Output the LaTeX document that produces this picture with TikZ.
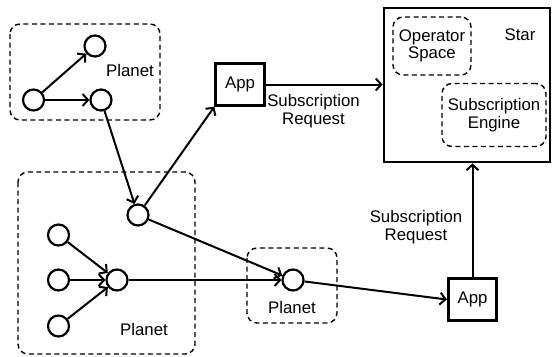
\documentclass[tikz,border=0pt]{standalone}
\usepackage{fontspec}
\setmainfont{Liberation Sans}
\usetikzlibrary{arrows.meta}
\begin{document}
\begin{tikzpicture}[x=1pt,y=-1pt,
  every node/.style={font=\fontsize{16.8}{17.5}\selectfont},
  dot/.style={circle,draw,line width=2.2pt,minimum size=21pt,inner sep=0pt},
  grp/.style={draw,dash pattern=on 5pt off 3.5pt,rounded corners=10pt,line width=1.4pt},
  appbox/.style={draw,line width=2.8pt,minimum width=48.5pt,minimum height=41.5pt,inner sep=0pt},
  conn/.style={line width=2pt,-{Straight Barb[length=5.5pt,width=12pt,line width=2pt]}},
  lbl/.style={align=center,inner sep=0pt}
]
\useasboundingbox (0,0) rectangle (553,356);

% group boxes
\draw[grp] (10,24) rectangle (160,120);
\draw[grp] (18,172) rectangle (195,354);
\draw[grp] (247,248) rectangle (337,323);

% star
\node[draw,line width=2.8pt,minimum width=166pt,minimum height=154pt,inner sep=0pt] (star) at (467,85) {};
\node[grp,minimum width=78pt,minimum height=58pt,inner sep=0pt,align=center] (ops) at (432,46) {Operator\\Space};
\node[grp,minimum width=104pt,minimum height=63pt,inner sep=0pt,align=center] (eng) at (494,115) {Subscription\\Engine};
\node[lbl] (starl) at (520,35) {Star};

% top-left planet
\node[dot] (t1) at (95,46) {};
\node[dot] (l1) at (33.5,100) {};
\node[dot] (r1) at (101,100) {};
\node[lbl] (pl1) at (130,70) {Planet};

% bottom planet
\node[dot] (hub) at (138,215) {};
\node[dot] (a1) at (58.5,235) {};
\node[dot] (a2) at (58.5,280) {};
\node[dot] (a3) at (58.5,326) {};
\node[dot] (cc) at (117,280) {};
\node[lbl] (pl2) at (144,329) {Planet};

% small planet
\node[dot] (sc) at (293,280) {};
\node[lbl] (pl3) at (292,307) {Planet};

% apps
\node[appbox] (app1) at (240,84.5) {App};
\node[appbox] (app2) at (472.5,299.5) {App};

% labels
\node[lbl] (req1) at (313.5,111) {Subscription\\Request};
\node[lbl] (req2) at (416,227) {Subscription\\Request};

% connectors
\draw[conn] (l1) -- (t1);
\draw[conn] (l1) -- (r1);
\draw[conn] (r1) -- (hub);
\draw[conn] (hub) -- (app1.south west);
\draw[conn] (hub) -- (sc);
\draw[conn] (a1) -- (cc);
\draw[conn] (a2) -- (cc);
\draw[conn] (a3) -- (cc);
\draw[conn] (cc) -- (sc);
\draw[conn] (sc) -- (app2.west);
\draw[conn] (app1.east) -- (app1.east -| star.west);
\draw[conn] (app2.north) -- (app2.north |- star.south);
\end{tikzpicture}
\end{document}
